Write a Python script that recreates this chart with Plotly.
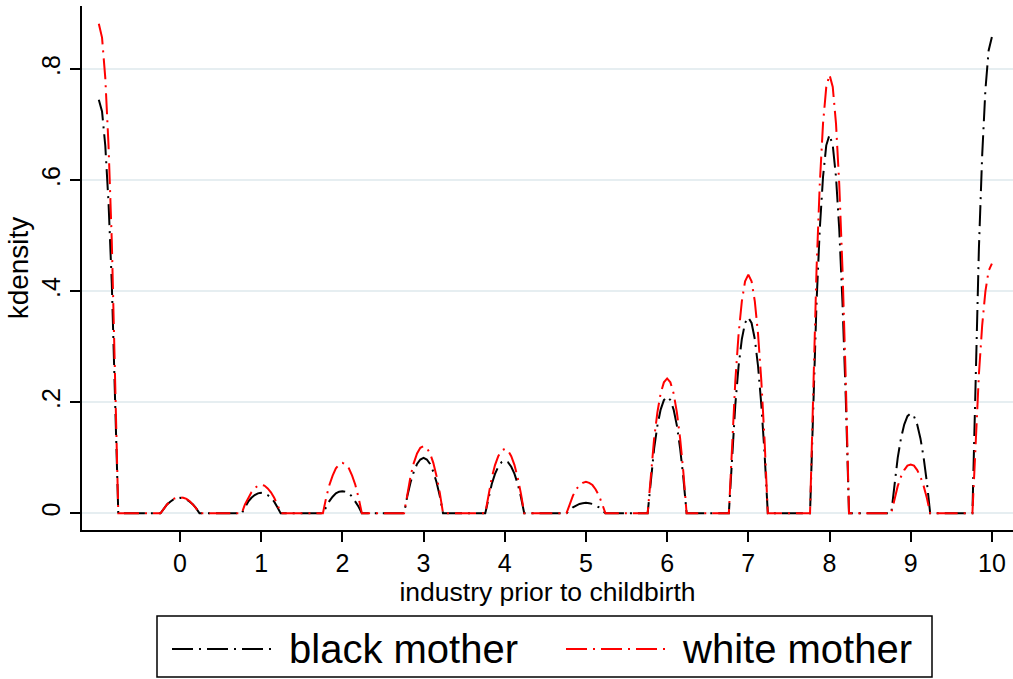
import plotly.graph_objects as go

# industry codes (bump centres) and sample offsets around each centre
centers = [-1, 0, 1, 2, 3, 4, 5, 6, 7, 8, 9, 10]
offsets = [-0.24, -0.20, -0.16, -0.12, -0.08, -0.04, 0.0,
           0.04, 0.08, 0.12, 0.16, 0.20, 0.24]

# kdensity values, one row per bump
black_rows = [
    [0.745, 0.724, 0.662, 0.559, 0.414, 0.228, 0],
    [0, 0.009, 0.016, 0.021, 0.025, 0.027, 0.028, 0.027, 0.025, 0.021, 0.016, 0.009, 0],
    [0, 0.011, 0.021, 0.028, 0.033, 0.036, 0.037, 0.036, 0.033, 0.028, 0.021, 0.011, 0],
    [0, 0.012, 0.022, 0.030, 0.036, 0.039, 0.040, 0.039, 0.036, 0.030, 0.022, 0.012, 0],
    [0, 0.031, 0.056, 0.075, 0.089, 0.097, 0.100, 0.097, 0.089, 0.075, 0.056, 0.031, 0],
    [0, 0.029, 0.053, 0.071, 0.084, 0.092, 0.095, 0.092, 0.084, 0.071, 0.053, 0.029, 0],
    [0, 0.006, 0.011, 0.014, 0.017, 0.018, 0.019, 0.018, 0.017, 0.014, 0.011, 0.006, 0],
    [0, 0.064, 0.117, 0.158, 0.187, 0.204, 0.210, 0.204, 0.187, 0.158, 0.117, 0.064, 0],
    [0, 0.108, 0.196, 0.265, 0.314, 0.343, 0.353, 0.343, 0.314, 0.265, 0.196, 0.108, 0],
    [0, 0.209, 0.379, 0.512, 0.606, 0.663, 0.682, 0.663, 0.606, 0.512, 0.379, 0.209, 0],
    [0, 0.055, 0.100, 0.135, 0.160, 0.175, 0.180, 0.175, 0.160, 0.135, 0.100, 0.055, 0],
    [0, 0.263, 0.477, 0.644, 0.763, 0.834, 0.858],
]
white_rows = [
    [0.882, 0.857, 0.784, 0.662, 0.490, 0.270, 0],
    [0, 0.009, 0.016, 0.022, 0.026, 0.028, 0.029, 0.028, 0.026, 0.022, 0.016, 0.009, 0],
    [0, 0.016, 0.028, 0.038, 0.045, 0.050, 0.051, 0.050, 0.045, 0.038, 0.028, 0.016, 0],
    [0, 0.028, 0.051, 0.068, 0.081, 0.088, 0.091, 0.088, 0.081, 0.068, 0.051, 0.028, 0],
    [0, 0.037, 0.067, 0.091, 0.108, 0.118, 0.121, 0.118, 0.108, 0.091, 0.067, 0.037, 0],
    [0, 0.035, 0.064, 0.087, 0.103, 0.113, 0.116, 0.113, 0.103, 0.087, 0.064, 0.035, 0],
    [0, 0.017, 0.032, 0.043, 0.051, 0.055, 0.057, 0.055, 0.051, 0.043, 0.032, 0.017, 0],
    [0, 0.074, 0.135, 0.182, 0.216, 0.236, 0.243, 0.236, 0.216, 0.182, 0.135, 0.074, 0],
    [0, 0.132, 0.239, 0.323, 0.382, 0.418, 0.430, 0.418, 0.382, 0.323, 0.239, 0.132, 0],
    [0, 0.242, 0.439, 0.593, 0.702, 0.768, 0.790, 0.768, 0.702, 0.593, 0.439, 0.242, 0],
    [0, 0.027, 0.049, 0.066, 0.078, 0.086, 0.088, 0.086, 0.078, 0.066, 0.049, 0.027, 0],
    [0, 0.138, 0.250, 0.338, 0.400, 0.437, 0.450],
]

x_ticks = [0, 1, 2, 3, 4, 5, 6, 7, 8, 9, 10]
y_ticks = [0, 0.2, 0.4, 0.6, 0.8]
y_tick_labels = ["0", ".2", ".4", ".6", ".8"]
series_names = ["black mother", "white mother"]


def grid_for(center):
    if center == centers[0]:
        offs = [o for o in offsets if o >= 0]
    elif center == centers[-1]:
        offs = [o for o in offsets if o <= 0]
    else:
        offs = offsets
    return [round(center + o, 4) for o in offs]


x_all = [v for c in centers for v in grid_for(c)]
black = [v for row in black_rows for v in row]
white = [v for row in white_rows for v in row]

DASH = "21px,6px,2px,6px"
FONT = "Liberation Sans, Arial, sans-serif"

fig = go.Figure()
fig.add_trace(go.Scatter(x=x_all, y=black, mode="lines", name=series_names[0],
                         line=dict(color="black", width=2, dash=DASH), showlegend=False))
fig.add_trace(go.Scatter(x=x_all, y=white, mode="lines", name=series_names[1],
                         line=dict(color="#ff0000", width=2, dash=DASH), showlegend=False))

W, H = 1013, 679
L, R, T, B = 82, 0, 6, 149
pw, ph = W - L - R, H - T - B


def px(xp):
    return (xp - L) / pw


def py(yp):
    return (H - B - yp) / ph


# legend box (drawn manually to match Stata's long sample lines)
shapes = [
    dict(type="rect", xref="paper", yref="paper", x0=px(157), x1=px(932), y0=py(677), y1=py(616),
         line=dict(color="black", width=1.5), fillcolor="white", layer="above"),
    dict(type="line", xref="paper", yref="paper", x0=px(172), x1=px(272), y0=py(649), y1=py(649),
         line=dict(color="black", width=2, dash=DASH)),
    dict(type="line", xref="paper", yref="paper", x0=px(566), x1=px(666), y0=py(649), y1=py(649),
         line=dict(color="#ff0000", width=2, dash=DASH)),
]
annotations = [
    dict(text=series_names[0], xref="paper", yref="paper", x=px(287), y=py(649),
         xanchor="left", yanchor="middle", showarrow=False, font=dict(size=40, color="black", family=FONT)),
    dict(text=series_names[1], xref="paper", yref="paper", x=px(680), y=py(649),
         xanchor="left", yanchor="middle", showarrow=False, font=dict(size=40, color="black", family=FONT)),
]

fig.update_layout(
    width=W, height=H,
    margin=dict(l=L, r=R, t=T, b=B, pad=0),
    paper_bgcolor="white", plot_bgcolor="white",
    font=dict(family=FONT, color="black"),
    shapes=shapes, annotations=annotations,
    showlegend=False,
    xaxis=dict(range=[-1.207, 10.26], tickvals=x_ticks, ticks="outside", ticklen=10, tickwidth=1.5,
               tickcolor="black", showline=True, linecolor="black", linewidth=1.5, showgrid=False,
               zeroline=False, tickfont=dict(size=25),
               title=dict(text="industry prior to childbirth", font=dict(size=26.5), standoff=0)),
    yaxis=dict(range=[-0.030, 0.914], tickvals=y_ticks, ticktext=y_tick_labels, ticks="outside",
               ticklen=10, tickwidth=1.5, tickcolor="black", tickangle=-90, showline=True,
               linecolor="black", linewidth=1.5, showgrid=True, gridcolor="#e6eef1", gridwidth=2,
               zeroline=False, tickfont=dict(size=25),
               title=dict(text="kdensity", font=dict(size=28), standoff=0)),
)

fig.write_html("out.html", config={"displayModeBar": False},
               post_script="document.body.style.margin='0';document.body.style.overflow='hidden';")
